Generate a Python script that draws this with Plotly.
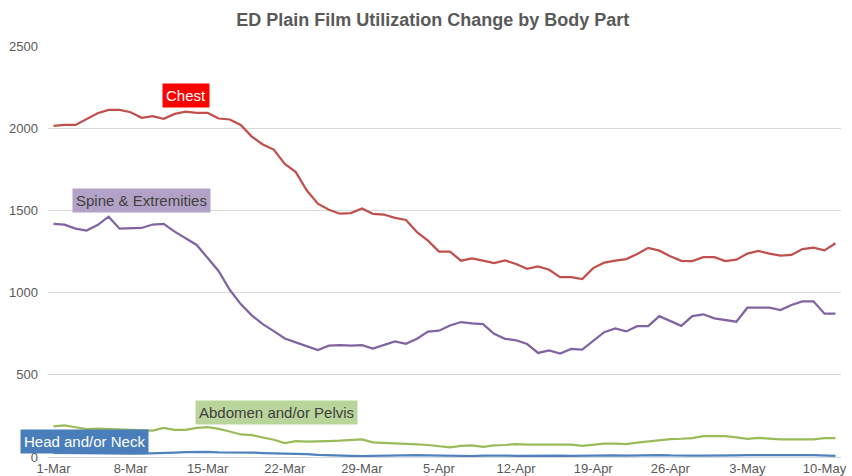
import pandas as pd
import plotly.graph_objects as go

dates = pd.date_range("2020-03-01", periods=72, freq="D")

chest = [2014, 2020, 2020, 2057, 2091, 2111, 2111, 2097, 2063, 2073,
         2057, 2087, 2101, 2093, 2093, 2059, 2053, 2020, 1949, 1901,
         1870, 1783, 1733, 1621, 1541, 1504, 1480, 1484, 1512, 1479,
         1475, 1455, 1442, 1368, 1316, 1249, 1249, 1194, 1208, 1194,
         1180, 1196, 1174, 1145, 1159, 1139, 1094, 1094, 1082, 1149,
         1182, 1194, 1204, 1235, 1272, 1255, 1221, 1193, 1192, 1216,
         1216, 1192, 1200, 1237, 1253, 1237, 1225, 1229, 1265, 1274,
         1257, 1300]

spine = [1418, 1413, 1389, 1377, 1411, 1462, 1389, 1393, 1393, 1414,
         1418, 1371, 1328, 1290, 1210, 1130, 1017, 930, 862, 808,
         766, 721, 697, 676, 651, 677, 680, 677, 680, 660,
         680, 703, 688, 719, 763, 768, 800, 821, 813, 808,
         749, 719, 710, 687, 633, 649, 629, 657, 653, 704,
         759, 782, 764, 796, 796, 857, 825, 798, 857, 868,
         843, 831, 823, 908, 908, 908, 894, 925, 947, 947,
         872, 872]

abdomen = [187, 192, 181, 169, 173, 171, 167, 165, 165, 161,
           177, 165, 165, 177, 181, 171, 155, 137, 133, 121,
           105, 85, 97, 93, 97, 97, 99, 103, 107, 89,
           87, 84, 80, 77, 73, 65, 58, 67, 71, 62,
           71, 73, 79, 75, 75, 75, 75, 75, 67, 75,
           81, 81, 79, 87, 95, 105, 109, 111, 115, 127,
           127, 127, 119, 111, 117, 111, 107, 107, 107, 107,
           115, 115]

head = [25, 24, 22, 21, 21, 20, 20, 21, 21, 22,
        24, 27, 30, 32, 31, 28, 28, 29, 27, 24,
        23, 22, 20, 17, 13, 10, 9, 7, 6, 8,
        10, 12, 14, 12, 10, 8, 9, 7, 6, 8,
        10, 9, 7, 8, 9, 11, 9, 7, 8, 10,
        12, 10, 8, 10, 12, 12, 10, 11, 9, 8,
        10, 11, 10, 11, 12, 12, 11, 12, 12, 11,
        8, 7]

tick_dates = ["2020-03-01", "2020-03-08", "2020-03-15", "2020-03-22", "2020-03-29",
              "2020-04-05", "2020-04-12", "2020-04-19", "2020-04-26", "2020-05-03",
              "2020-05-10"]
tick_text = ["1-Mar", "8-Mar", "15-Mar", "22-Mar", "29-Mar", "5-Apr", "12-Apr",
             "19-Apr", "26-Apr", "3-May", "10-May"]

series = [
    ("Head and/or Neck", head, "#4F81BD"),
    ("Abdomen and/or Pelvis", abdomen, "#9BBB59"),
    ("Spine & Extremities", spine, "#8064A2"),
    ("Chest", chest, "#C0504D"),
]

fig = go.Figure()
for name, vals, col in series:
    fig.add_trace(go.Scatter(x=dates, y=vals, mode="lines", name=name,
                             line=dict(color=col, width=2.25)))

FONT = "Liberation Sans, Arial, sans-serif"

labels = [
    ("Chest", 0.174, 0.880, "#FF0000", "#FFFFFF"),
    ("Spine & Extremities", 0.1182, 0.6233, "#B3A2C7", "#404040"),
    ("Abdomen and/or Pelvis", 0.2882, 0.1093, "#B9D59B", "#404040"),
    ("Head and/or Neck", 0.0463, 0.038, "#4A7EBB", "#FFFFFF"),
]
for text, ax, ay, bg, fc in labels:
    fig.add_annotation(text=text, x=ax, y=ay, xref="paper", yref="paper",
                       showarrow=False, bgcolor=bg, borderpad=3,
                       font=dict(family=FONT, size=15, color=fc),
                       xanchor="center", yanchor="middle")

fig.update_layout(
    width=852, height=476,
    margin=dict(l=48, r=11, t=46, b=19),
    paper_bgcolor="white", plot_bgcolor="white",
    showlegend=False,
    title=dict(text="<b>ED Plain Film Utilization Change by Body Part</b>",
               x=0.508, xanchor="center", y=0.958, yanchor="middle",
               font=dict(family=FONT, size=18, color="#595959")),
    font=dict(family=FONT, size=13, color="#595959"),
)
fig.update_xaxes(range=["2020-02-29 12:00", "2020-05-11 12:00"],
                 tickvals=tick_dates, ticktext=tick_text,
                 showgrid=False, showline=False, ticks="", automargin=False,
                 ticklabelstandoff=2,
                 tickfont=dict(size=13, color="#595959"))
fig.update_yaxes(range=[0, 2500], dtick=500, showgrid=True, gridcolor="#D9D9D9",
                 gridwidth=1, zeroline=True, zerolinecolor="#D9D9D9", zerolinewidth=1,
                 ticks="", automargin=False,
                 tickfont=dict(size=13, color="#595959"), ticklabelstandoff=9)

fig.write_html("out.html",
               config={"displayModeBar": False},
               post_script="document.body.style.margin='0';document.body.style.overflow='hidden';")
